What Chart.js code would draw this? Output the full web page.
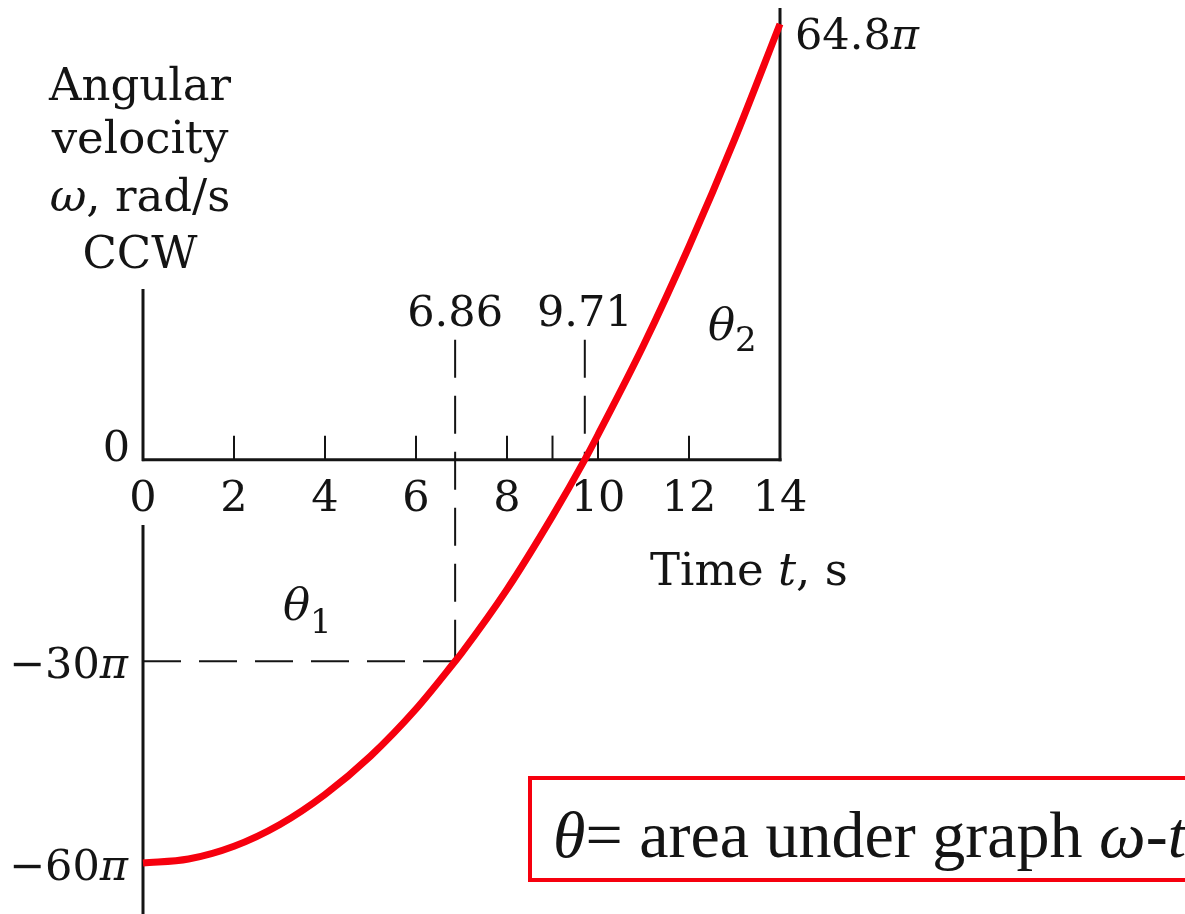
<!DOCTYPE html>
<html>
<head>
<meta charset="utf-8">
<title>Angular velocity vs time</title>
<script src="https://cdn.jsdelivr.net/npm/chart.js@4/dist/chart.umd.min.js"></script>
<style>
  html, body { margin: 0; padding: 0; background: #fff; }
  #wrap { position: relative; width: 1185px; height: 914px; overflow: hidden; }
</style>
</head>
<body>
<div id="wrap"><canvas id="chart" width="1185" height="914"></canvas></div>
<script>
// time t, s
const TIMES = [0, 1, 2, 3, 4, 5, 6, 6.86, 7, 8, 9, 9.71, 10, 11, 12, 13, 14];
// angular velocity ω, in multiples of π rad/s (CCW positive)
const OMEGA = [-60, -59.4, -57.5, -54.3, -49.8, -44.1, -37.1, -30, -28.8, -19.3, -8.4, 0, 3.7, 17.0, 31.7, 47.6, 64.8];

const X_TICK_LABELS = [0, 2, 4, 6, 8, 10, 12, 14];
const X_TICK_MARKS  = [2, 4, 6, 8, 9, 10, 12];
const Y_TICKS       = [0, -30, -60];
const Y_TICK_LABELS = ['0', '−30', '−60'];
const T_MARKS       = [6.86, 9.71];   // dashed drop lines
const W_MARK        = -30;            // ω where the first drop line turns
const T_END = 14, W_END = 64.8;

const RED   = '#f6000e';
const INK   = '#141414';
const SERIF = '"DejaVu Serif"';
const NUM    = `43px ${SERIF}`;
const NUM_IT = `italic 43px ${SERIF}`;
const TXT    = `45px ${SERIF}`;
const TXT_IT = `italic 45px ${SERIF}`;
const SUB    = `34px ${SERIF}`;
const BOX    = '66px "Liberation Serif"';
const BOX_IT = 'italic 66px "Liberation Serif"';

// draw a row of [text, font, dy] pieces as one string
function drawRuns(ctx, runs, x, y, align) {
  let w = 0;
  runs.forEach(r => { ctx.font = r[1]; w += ctx.measureText(r[0]).width; });
  let cx = align === 'center' ? x - w / 2 : align === 'right' ? x - w : x;
  runs.forEach(r => {
    ctx.font = r[1];
    ctx.fillText(r[0], cx, y + (r[2] || 0));
    cx += ctx.measureText(r[0]).width;
  });
}

function line(ctx, x1, y1, x2, y2) {
  ctx.beginPath();
  ctx.moveTo(x1, y1);
  ctx.lineTo(x2, y2);
  ctx.stroke();
}

// axes, ticks and dashed guides go under the curve
const axesPlugin = {
  id: 'axes',
  beforeDatasetsDraw(chart) {
    const { ctx, scales: { x, y } } = chart;
    const x0 = x.getPixelForValue(0), x14 = x.getPixelForValue(T_END);
    const y0 = y.getPixelForValue(0);
    ctx.save();
    ctx.strokeStyle = INK;
    ctx.lineCap = 'butt';

    // time axis and the two verticals
    ctx.lineWidth = 3;
    line(ctx, x0 - 1, y0, x14 + 1.5, y0);
    line(ctx, x14, y0 + 1.5, x14, 8);
    line(ctx, x0, y0 + 1.5, x0, 289);
    line(ctx, x0, 525, x0, chart.height);

    // tick marks on the time axis
    ctx.lineWidth = 2;
    X_TICK_MARKS.forEach(t => {
      const px = x.getPixelForValue(t);
      line(ctx, px, y0, px, y0 - 24);
    });

    // dashed guides
    ctx.setLineDash([38, 18]);
    const yTop = y0 - 120;
    const yMark = y.getPixelForValue(W_MARK);
    const xa = x.getPixelForValue(T_MARKS[0]);
    const xb = x.getPixelForValue(T_MARKS[1]);
    line(ctx, xa, yTop, xa, yMark);
    line(ctx, xb, yTop, xb, y0);
    line(ctx, x0, yMark, xa, yMark);
    ctx.restore();
  },

  afterDraw(chart) {
    const { ctx, scales: { x, y } } = chart;
    const y0 = y.getPixelForValue(0);
    ctx.save();
    ctx.fillStyle = INK;
    ctx.textBaseline = 'alphabetic';
    ctx.textAlign = 'left';

    // time tick labels
    X_TICK_LABELS.forEach(t => {
      drawRuns(ctx, [[String(t), NUM]], x.getPixelForValue(t), y0 + 51, 'center');
    });

    // ω tick labels
    Y_TICKS.forEach((v, i) => {
      const py = y.getPixelForValue(v);
      if (v === 0) {
        drawRuns(ctx, [[Y_TICK_LABELS[i], NUM]], 130, py + 1, 'right');
      } else {
        drawRuns(ctx, [[Y_TICK_LABELS[i], NUM], ['π', NUM_IT]], 128, py + 17, 'right');
      }
    });

    // end value and drop-line values
    drawRuns(ctx, [[String(W_END), NUM], ['π', NUM_IT]], x.getPixelForValue(T_END) + 15, 49, 'left');
    T_MARKS.forEach(t => {
      drawRuns(ctx, [[t.toFixed(2), NUM]], x.getPixelForValue(t), 326, 'center');
    });

    // axis titles
    const tx = x.getPixelForValue(0) - 3;
    drawRuns(ctx, [['Angular', TXT]], tx, 100, 'center');
    drawRuns(ctx, [['velocity', TXT]], tx, 153, 'center');
    drawRuns(ctx, [['ω', TXT_IT], [', rad/s', TXT]], tx, 211, 'center');
    drawRuns(ctx, [['CCW', TXT]], tx, 268, 'center');
    drawRuns(ctx, [['Time ', TXT], ['t', TXT_IT], [', s', TXT]], 650, 585, 'left');

    // area labels
    drawRuns(ctx, [['θ', TXT_IT], ['1', SUB, 13]], 283, 620, 'left');
    drawRuns(ctx, [['θ', TXT_IT], ['2', SUB, 11]], 708, 340, 'left');

    // boxed note
    ctx.strokeStyle = RED;
    ctx.lineWidth = 4;
    ctx.strokeRect(530, 778, 720, 102);
    drawRuns(ctx, [['θ', BOX_IT], ['= area under graph ', BOX], ['ω', BOX_IT], ['-', BOX], ['t', BOX_IT]], 553, 857, 'left');
    ctx.restore();
  }
};

const ctx = document.getElementById('chart').getContext('2d');
new Chart(ctx, {
  type: 'line',
  data: {
    datasets: [{
      data: TIMES.map((t, i) => ({ x: t, y: OMEGA[i] })),
      borderColor: RED,
      borderWidth: 7,
      pointRadius: 0,
      fill: false,
      cubicInterpolationMode: 'monotone',
      clip: false,
    }],
  },
  options: {
    responsive: false,
    animation: false,
    layout: { padding: { left: 143, right: 405, top: 24, bottom: 51 } },
    plugins: { legend: { display: false }, tooltip: { enabled: false } },
    scales: {
      x: { type: 'linear', min: 0, max: T_END, display: false },
      y: { type: 'linear', min: -60, max: W_END, display: false },
    },
  },
  plugins: [axesPlugin],
});
</script>
</body>
</html>
